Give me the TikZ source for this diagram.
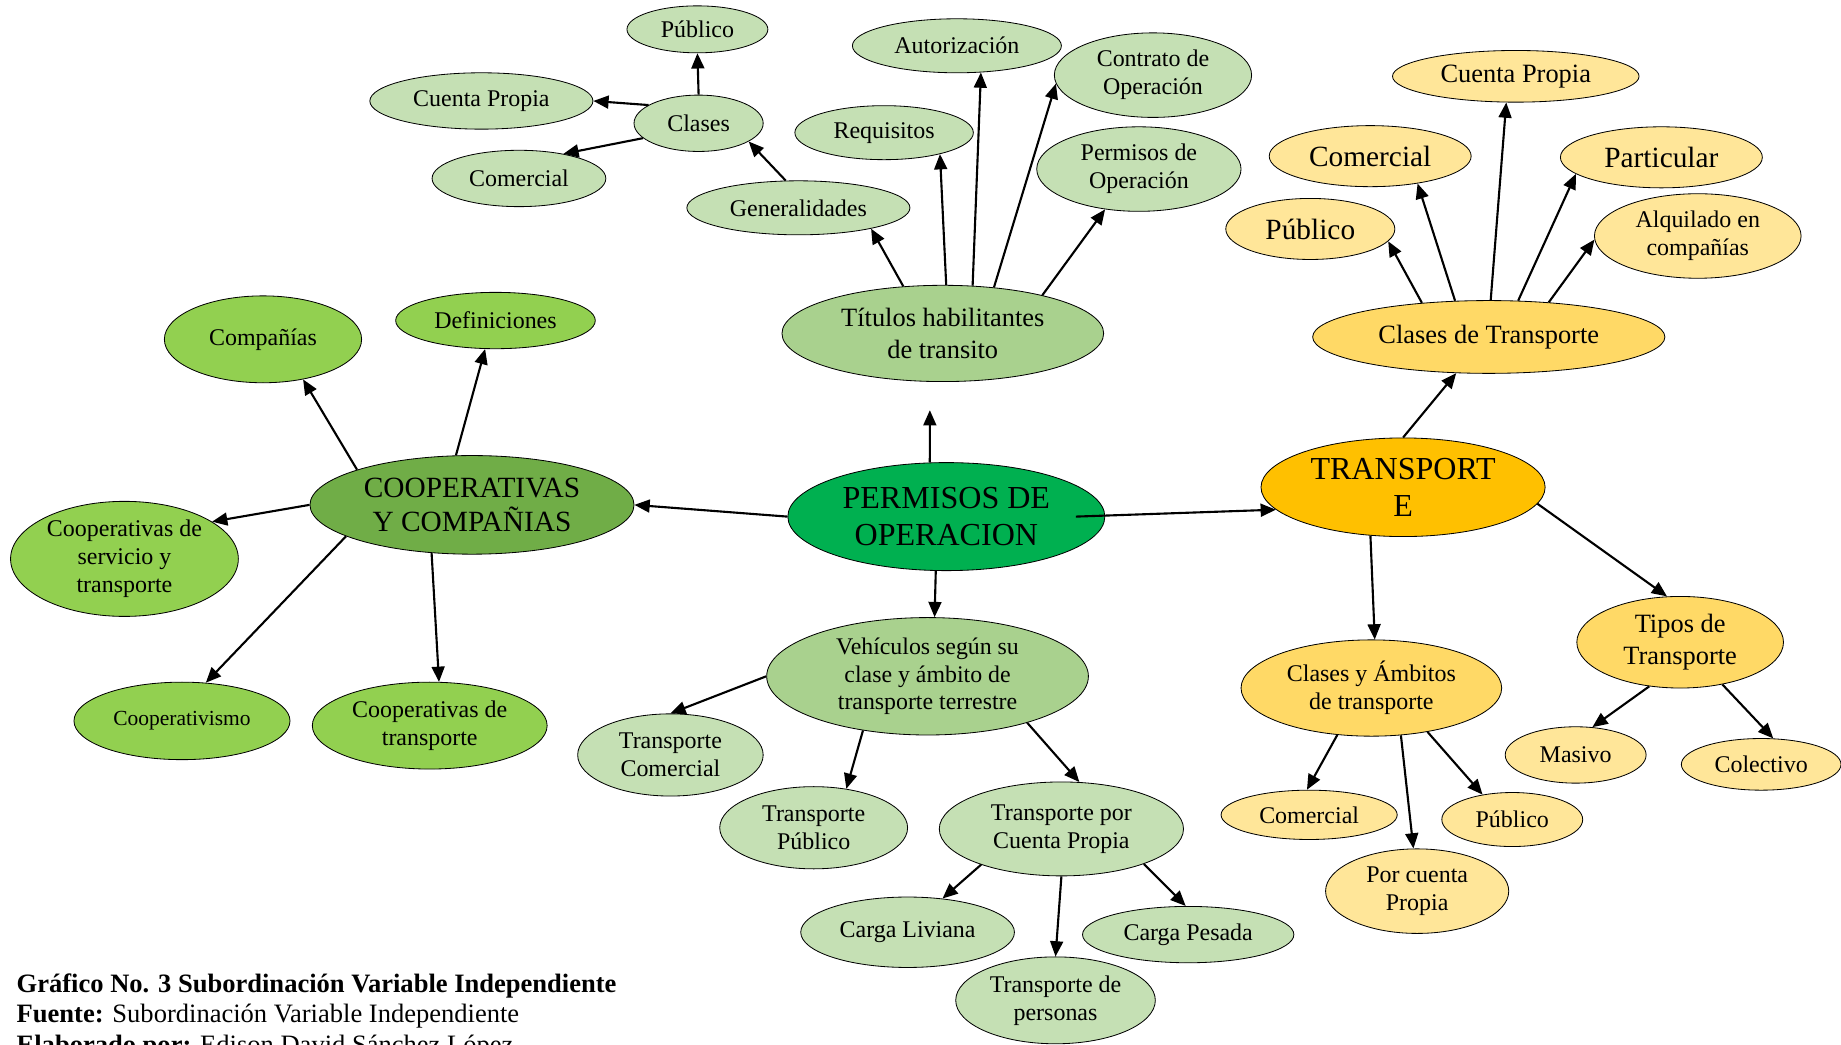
\documentclass[tikz,border=0pt]{standalone}
\usepackage{fontspec}
\setmainfont{Liberation Serif}
\usetikzlibrary{shapes.geometric, arrows.meta}

\definecolor{lgreen}{HTML}{C5E0B4}
\definecolor{mgreen}{HTML}{A9D18E}
\definecolor{bgreen}{HTML}{92D050}
\definecolor{dgreen}{HTML}{70AD47}
\definecolor{pgreen}{HTML}{00B050}
\definecolor{gold}{HTML}{FFC000}
\definecolor{ylw}{HTML}{FFD966}
\definecolor{lylw}{HTML}{FFE699}

\newcommand{\txtsm}{\fontsize{18.3}{22}\selectfont}
\newcommand{\txtn}{\fontsize{20.4}{24}\selectfont}
\newcommand{\txtm}{\fontsize{22.5}{27}\selectfont}
\newcommand{\txtl}{\fontsize{25}{29}\selectfont}
\newcommand{\txtxl}{\fontsize{27.3}{31}\selectfont}
\newcommand{\txtcap}{\fontsize{22.6}{26}\selectfont}

\begin{document}
\begin{tikzpicture}[x=1pt, y=-1pt,
            bubble/.style={ellipse, draw, line width=0.7pt, inner sep=0pt, align=center, font=\txtn},
            arr/.style={-{Triangle[length=13pt,width=11pt]}, line width=1.8pt}]

            \useasboundingbox (0,0) rectangle (1568,890);

            % centro
            \node[bubble, fill=pgreen, minimum width=270pt, minimum height=92pt, font=\txtxl] (main) at (806,440) {PERMISOS DE\\OPERACION};

            % titulos habilitantes
            \node[bubble, fill=mgreen, minimum width=274pt, minimum height=82pt, font=\txtm] (tit) at (803,284) {Títulos habilitantes\\de transito};
            \node[bubble, fill=lgreen, minimum width=190pt, minimum height=46pt] (gen) at (680,177) {Generalidades};
            \node[bubble, fill=lgreen, minimum width=152pt, minimum height=46pt] (req) at (753,113) {Requisitos};
            \node[bubble, fill=lgreen, minimum width=178pt, minimum height=46pt] (aut) at (815,39) {Autorización};
            \node[bubble, fill=lgreen, minimum width=168pt, minimum height=72pt] (con) at (982,64) {Contrato de\\Operación};
            \node[bubble, fill=lgreen, minimum width=174pt, minimum height=72pt] (per) at (970,144) {Permisos de\\Operación};
            \node[bubble, fill=lgreen, minimum width=110pt, minimum height=48pt] (cla) at (595,105) {Clases};
            \node[bubble, fill=lgreen, minimum width=120pt, minimum height=40pt] (pub1) at (594,25) {Público};
            \node[bubble, fill=lgreen, minimum width=190pt, minimum height=48pt] (cp1) at (410,86) {Cuenta Propia};
            \node[bubble, fill=lgreen, minimum width=148pt, minimum height=48pt] (com1) at (442,152) {Comercial};

            % cooperativas
            \node[bubble, fill=dgreen, minimum width=276pt, minimum height=84pt, font=\txtl] (coop) at (402,430) {COOPERATIVAS\\Y COMPAÑIAS};
            \node[bubble, fill=bgreen, minimum width=168pt, minimum height=74pt] (compa) at (224,289) {Compañías};
            \node[bubble, fill=bgreen, minimum width=170pt, minimum height=48pt] (def) at (422,273) {Definiciones};
            \node[bubble, fill=bgreen, minimum width=194pt, minimum height=98pt] (cst) at (106,476) {Cooperativas de\\servicio y\\transporte};
            \node[bubble, fill=bgreen, minimum width=184pt, minimum height=66pt, font=\txtsm] (cvo) at (155,614) {Cooperativismo};
            \node[bubble, fill=bgreen, minimum width=200pt, minimum height=74pt] (ctra) at (366,618) {Cooperativas de\\transporte};

            % vehiculos
            \node[bubble, fill=mgreen, minimum width=274pt, minimum height=100pt, font=\fontsize{20.3}{23.5}\selectfont] (veh) at (790,576) {Vehículos según su\\clase y ámbito de\\transporte terrestre};
            \node[bubble, fill=lgreen, minimum width=158pt, minimum height=70pt] (tcom) at (571,643) {Transporte\\Comercial};
            \node[bubble, fill=lgreen, minimum width=160pt, minimum height=70pt] (tpub) at (693,705) {Transporte\\Público};
            \node[bubble, fill=lgreen, minimum width=208pt, minimum height=80pt] (tcp) at (904,706) {Transporte por\\Cuenta Propia};
            \node[bubble, fill=lgreen, minimum width=182pt, minimum height=60pt] (cliv) at (773,794) {Carga Liviana};
            \node[bubble, fill=lgreen, minimum width=170pt, minimum height=74pt] (tper) at (899,852) {Transporte de\\personas};
            \node[bubble, fill=lgreen, minimum width=180pt, minimum height=48pt] (cpes) at (1012,796) {Carga Pesada};

            % transporte
            \node[bubble, fill=gold, minimum width=242pt, minimum height=84pt, font=\txtxl] (tra) at (1195,415) {TRANSPORT\\E};
            \node[bubble, fill=ylw, minimum width=300pt, minimum height=62pt, font=\txtm] (ctr) at (1268,287) {Clases de Transporte};
            \node[bubble, fill=lylw, minimum width=210pt, minimum height=44pt, font=\txtm] (cp2) at (1291,65) {Cuenta Propia};
            \node[bubble, fill=lylw, minimum width=172pt, minimum height=52pt, font=\txtl] (com2) at (1167,133) {Comercial};
            \node[bubble, fill=lylw, minimum width=172pt, minimum height=52pt, font=\txtl] (par) at (1415,134) {Particular};
            \node[bubble, fill=lylw, minimum width=144pt, minimum height=52pt, font=\txtl] (pub2) at (1116,195) {Público};
            \node[bubble, fill=lylw, minimum width=176pt, minimum height=72pt] (alq) at (1446,201) {Alquilado en\\compañías};
            \node[bubble, fill=ylw, minimum width=222pt, minimum height=82pt] (cya) at (1168,586) {Clases y Ámbitos\\de transporte};
            \node[bubble, fill=ylw, minimum width=176pt, minimum height=78pt, font=\txtm] (tip) at (1431,547) {Tipos de\\Transporte};
            \node[bubble, fill=lylw, minimum width=150pt, minimum height=42pt] (com3) at (1115,694) {Comercial};
            \node[bubble, fill=lylw, minimum width=120pt, minimum height=46pt] (pub3) at (1288,698) {Público};
            \node[bubble, fill=lylw, minimum width=156pt, minimum height=72pt] (pcp) at (1207,759) {Por cuenta\\Propia};
            \node[bubble, fill=lylw, minimum width=120pt, minimum height=48pt] (mas) at (1342,643) {Masivo};
            \node[bubble, fill=lylw, minimum width=136pt, minimum height=44pt] (col) at (1500,651) {Colectivo};

            % flechas del centro
            \draw[arr, shorten >=24pt] (main.107) -- ([xshift=-11pt]tit.south);
            \draw[arr] (main.west) -- (coop.east);
            \draw[arr] ([xshift=-25pt]main.east) -- (tra.190);
            \draw[arr] ([xshift=-9pt]main.south) -- ([xshift=6pt]veh.north);

            \draw[arr] (tit.130) -- (gen.-16);
            \draw[arr] (tit.86) -- (req.-21);
            \draw[arr] (tit.58) -- (aut.-48);
            \draw[arr] (tit.42) -- (con.185);
            \draw[arr] (tit.21) -- (per.230);
            \draw[arr] (gen.115) -- (cla.-20);
            \draw[arr] (cla.north) -- (pub1.south);
            \draw[arr] (cla.160) -- (cp1.east);
            \draw[arr] (cla.195) -- (com1.29);

            \draw[arr] (coop.163) -- (compa.-45);
            \draw[arr] (coop.108) -- (def.250);
            \draw[arr] (coop.west) -- (cst.23);
            \draw[arr] (coop.194) -- (cvo.58);
            \draw[arr] (coop.230) -- (ctra.78);

            \draw[arr] (veh.west) -- (tcom.north);
            \draw[arr] (veh.220) -- (tpub.50);
            \draw[arr] (veh.-25) -- (tcp.69);
            \draw[arr] (tcp.204) -- (cliv.44);
            \draw[arr] (tcp.south) -- (tper.north);
            \draw[arr] (tcp.-23) -- (cpes.95);

            \draw[arr] (tra.north) -- (ctr.228);
            \draw[arr] (tra.236) -- (cya.86);
            \draw[arr] (tra.-7) -- (tip.106);
            \draw[arr] (ctr.153) -- (pub2.-9);
            \draw[arr] (ctr.133) -- (com2.-30);
            \draw[arr] (ctr.87) -- (cp2.250);
            \draw[arr] (ctr.51) -- (par.191);
            \draw[arr] (ctr.30) -- (alq.182);
            \draw[arr] (cya.234) -- (com3.95);
            \draw[arr] (cya.302) -- (pcp.95);
            \draw[arr] (cya.322) -- (pub3.140);
            \draw[arr] (tip.235) -- (mas.59);
            \draw[arr] (tip.315) -- (col.65);

            % pie
            \node[anchor=base west, inner sep=0pt, font=\txtcap] (cap1) at (14,845) {\textbf{Gráfico No. 3 Subordinación Variable Independiente}};
            \node[anchor=base west, inner sep=0pt, font=\txtcap] (cap2) at (14,871) {\textbf{Fuente:} Subordinación Variable Independiente};
            \node[anchor=base west, inner sep=0pt, font=\txtcap] (cap3) at (14,897) {\textbf{Elaborado por:} Edison David Sánchez López};
\end{tikzpicture}
\end{document}
